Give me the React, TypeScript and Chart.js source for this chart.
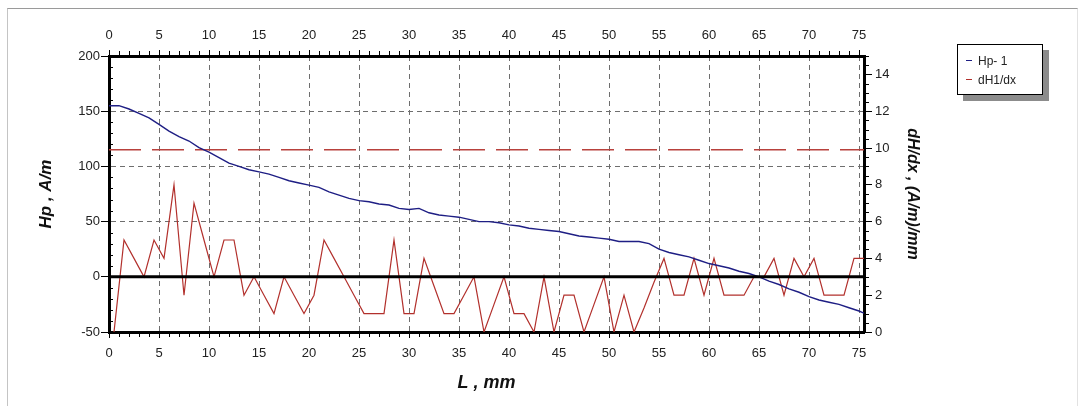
import { useEffect, useRef } from 'react';
import { Chart, registerables } from 'chart.js';

Chart.register(...registerables);

// ---- data ----
const xMin = 0;
const xMax = 75.5;
const xTickValues = [0, 5, 10, 15, 20, 25, 30, 35, 40, 45, 50, 55, 60, 65, 70, 75];
const hpTickValues = [-50, 0, 50, 100, 150, 200];
const dhTickValues = [0, 2, 4, 6, 8, 10, 12, 14];

const hpPositions = [
  0, 1, 2, 3, 4, 5, 6, 7, 8, 9, 10, 11, 12, 13, 14, 15, 16, 17, 18, 19,
  20, 21, 22, 23, 24, 25, 26, 27, 28, 29, 30, 31, 32, 33, 34, 35, 36, 37, 38, 39,
  40, 41, 42, 43, 44, 45, 46, 47, 48, 49, 50, 51, 52, 53, 54, 55, 56, 57, 58, 59,
  60, 61, 62, 63, 64, 65, 66, 67, 68, 69, 70, 71, 72, 73, 74, 75, 75.5,
];
const hpValues = [
  155, 155, 152, 148, 144, 138, 132, 127, 123, 117, 113, 108, 103, 100, 97, 95, 93, 90, 87, 85,
  83, 81, 77, 74, 71, 69, 68, 66, 65, 62, 61, 62, 58, 56, 55, 54, 52, 50, 50, 49,
  47, 46, 44, 43, 42, 41, 39, 37, 36, 35, 34, 32, 32, 32, 30, 25, 22, 20, 18, 15,
  12, 10, 8, 5, 3, 0, -4, -7, -11, -14, -18, -21, -23, -25, -28, -31, -33,
];

const dhPositions = [
  0.5, 1.5, 2.5, 3.5, 4.5, 5.5, 6.5, 7.5, 8.5, 9.5, 10.5, 11.5, 12.5, 13.5, 14.5, 15.5, 16.5, 17.5, 18.5, 19.5,
  20.5, 21.5, 22.5, 23.5, 24.5, 25.5, 26.5, 27.5, 28.5, 29.5, 30.5, 31.5, 32.5, 33.5, 34.5, 35.5, 36.5, 37.5, 38.5, 39.5,
  40.5, 41.5, 42.5, 43.5, 44.5, 45.5, 46.5, 47.5, 48.5, 49.5, 50.5, 51.5, 52.5, 53.5, 54.5, 55.5, 56.5, 57.5, 58.5, 59.5,
  60.5, 61.5, 62.5, 63.5, 64.5, 65.5, 66.5, 67.5, 68.5, 69.5, 70.5, 71.5, 72.5, 73.5, 74.5, 75.5,
];
const dhValues = [
  0, 5, 4, 3, 5, 4, 8, 2, 7, 5, 3, 5, 5, 2, 3, 2, 1, 3, 2, 1,
  2, 5, 4, 3, 2, 1, 1, 1, 5, 1, 1, 4, 2.5, 1, 1, 2, 3, 0, 1.5, 3,
  1, 1, 0, 3, 0, 2, 2, 0, 1.5, 3, 0, 2, 0, 1.3, 2.7, 4, 2, 2, 4, 2,
  4, 2, 2, 2, 3, 3, 4, 2, 4, 3, 4, 2, 2, 2, 4, 4,
];

const dhThreshold = 9.9;
const zeroLevel = 0;

const hpLabel = 'Hp- 1';
const dhLabel = 'dH1/dx';

const BLUE = '#1e1e84';
const RED = '#b2302c';
const RED_DASH = '#b8413c';
const FONT = '"Liberation Sans", Arial, sans-serif';

export default function App() {
  const ref = useRef<HTMLCanvasElement>(null);

  useEffect(() => {
    const canvas = ref.current;
    if (!canvas) return;

    const minorTicks = {
      id: 'minorTicks',
      afterDraw(chart: any) {
        const { ctx, chartArea } = chart;
        const x = chart.scales.x;
        const y = chart.scales.y;
        const y2 = chart.scales.y2;
        ctx.save();
        ctx.strokeStyle = '#000';
        ctx.lineWidth = 1;
        const seg = (a: number, b: number, c: number, d: number) => {
          ctx.beginPath();
          ctx.moveTo(a, b);
          ctx.lineTo(c, d);
          ctx.stroke();
        };
        for (let v = Math.ceil(x.min); v <= x.max; v += 1) {
          if (v % 5 === 0) continue;
          const px = Math.round(x.getPixelForValue(v)) + 0.5;
          seg(px, chartArea.bottom, px, chartArea.bottom + 5);
          seg(px, chartArea.top, px, chartArea.top - 5);
        }
        for (let v = y.min; v <= y.max; v += 10) {
          if (v % 50 === 0) continue;
          const py = Math.round(y.getPixelForValue(v)) + 0.5;
          seg(chartArea.left, py, chartArea.left + 4, py);
        }
        for (let v = y2.min; v <= y2.max; v += 0.5) {
          if (v % 2 === 0) continue;
          const py = Math.round(y2.getPixelForValue(v)) + 0.5;
          seg(chartArea.right, py, chartArea.right + 5, py);
        }
        ctx.restore();
      },
    };

    const tickFont = { family: FONT, size: 13 };

    const chart = new Chart(canvas, {
      type: 'line',
      data: {
        datasets: [
          {
            label: 'zero',
            data: [
              { x: xMin, y: zeroLevel },
              { x: xMax, y: zeroLevel },
            ],
            borderColor: '#000',
            borderWidth: 3,
            pointRadius: 0,
            xAxisID: 'x',
            yAxisID: 'y',
            order: 1,
          },
          {
            label: hpLabel,
            data: hpPositions.map((p, i) => ({ x: p, y: hpValues[i] })),
            borderColor: BLUE,
            borderWidth: 1.4,
            pointRadius: 0,
            tension: 0,
            xAxisID: 'x',
            yAxisID: 'y',
            order: 2,
          },
          {
            label: dhLabel,
            data: dhPositions.map((p, i) => ({ x: p, y: dhValues[i] })),
            borderColor: RED,
            borderWidth: 1.2,
            pointRadius: 0,
            tension: 0,
            xAxisID: 'x',
            yAxisID: 'y2',
            order: 3,
          },
          {
            label: 'threshold',
            data: [
              { x: xMin, y: dhThreshold },
              { x: xMax, y: dhThreshold },
            ],
            borderColor: RED_DASH,
            borderWidth: 1.5,
            borderDash: [32, 11],
            pointRadius: 0,
            xAxisID: 'x',
            yAxisID: 'y2',
            order: 4,
          },
        ],
      },
      options: {
        responsive: false,
        animation: false,
        events: [],
        layout: { padding: { left: 30, right: 150, top: 20, bottom: 10 } },
        plugins: {
          legend: { display: false },
          tooltip: { enabled: false },
        },
        scales: {
          x: {
            type: 'linear',
            position: 'bottom',
            min: xMin,
            max: xMax,
            afterBuildTicks: (s: any) => {
              s.ticks = xTickValues.map((v) => ({ value: v }));
            },
            afterFit: (s: any) => {
              s.height = 64;
            },
            ticks: { font: tickFont, color: '#222', padding: 8, maxRotation: 0, autoSkip: false },
            grid: {
              color: (c: any) => (c.tick && c.tick.value > xMin ? '#6e6e6e' : 'transparent'),
              lineWidth: 1,
              tickColor: '#000',
              tickLength: 6,
            },
            border: { color: '#000', width: 3, dash: [5, 4] },
            title: {
              display: true,
              text: 'L , mm',
              color: '#111',
              font: { family: FONT, size: 18, style: 'italic', weight: 'bold' },
              padding: { top: 0, bottom: 2 },
            },
          },
          x2: {
            type: 'linear',
            position: 'top',
            min: xMin,
            max: xMax,
            afterBuildTicks: (s: any) => {
              s.ticks = xTickValues.map((v) => ({ value: v }));
            },
            afterFit: (s: any) => {
              s.height = 36;
            },
            ticks: { font: tickFont, color: '#222', padding: 7, maxRotation: 0, autoSkip: false },
            grid: { drawOnChartArea: false, tickColor: '#000', tickLength: 6 },
            border: { color: '#000', width: 3 },
          },
          y: {
            type: 'linear',
            position: 'left',
            min: -50,
            max: 200,
            afterBuildTicks: (s: any) => {
              s.ticks = hpTickValues.map((v) => ({ value: v }));
            },
            afterFit: (s: any) => {
              s.width = 79;
            },
            ticks: { font: tickFont, color: '#222', padding: 1 },
            grid: {
              color: (c: any) =>
                c.tick && c.tick.value > -50 && c.tick.value < 200 && c.tick.value !== 0
                  ? '#6e6e6e'
                  : 'transparent',
              lineWidth: 1,
              tickColor: '#000',
              tickLength: 8,
            },
            border: { color: '#000', width: 3, dash: [5, 4] },
            title: {
              display: true,
              text: 'Hp , A/m',
              color: '#111',
              font: { family: FONT, size: 17, style: 'italic', weight: 'bold' },
              padding: { top: 6, bottom: 0 },
            },
          },
          y2: {
            type: 'linear',
            position: 'right',
            min: 0,
            max: 15,
            afterBuildTicks: (s: any) => {
              s.ticks = dhTickValues.map((v) => ({ value: v }));
            },
            afterFit: (s: any) => {
              s.width = 69;
            },
            ticks: { font: tickFont, color: '#222', padding: 3 },
            grid: { drawOnChartArea: false, tickColor: '#000', tickLength: 8 },
            border: { color: '#000', width: 3 },
            title: {
              display: true,
              text: 'dH/dx , (A/m)/mm',
              color: '#111',
              font: { family: FONT, size: 16, style: 'italic', weight: 'bold' },
              padding: { top: 11, bottom: 0 },
            },
          },
        },
      },
      plugins: [minorTicks],
    } as any);

    return () => chart.destroy();
  }, []);

  const legendRow = (color: string, text: string) => (
    <div style={{ display: 'flex', alignItems: 'center', height: 19 }}>
      <span
        style={{
          display: 'inline-block',
          width: 6,
          height: 0,
          borderTop: `1.5px solid ${color}`,
          marginLeft: 8,
          marginRight: 6,
        }}
      />
      <span>{text}</span>
    </div>
  );

  return (
    <div style={{ position: 'fixed', left: 0, top: 0, width: 1083, height: 406, background: '#fff' }}>
      <div
        style={{
          position: 'absolute',
          left: 7,
          top: 8,
          width: 1069,
          height: 420,
          borderLeft: '1px solid #c4c4c4',
          borderTop: '1px solid #9a9a9a',
          borderRight: '1px solid #e2e2e2',
        }}
      />
      <canvas
        ref={ref}
        width={1083}
        height={406}
        style={{ position: 'absolute', left: 0, top: 0, width: 1083, height: 406 }}
      />
      <div
        style={{
          position: 'absolute',
          left: 957,
          top: 44,
          width: 86,
          height: 51,
          boxSizing: 'border-box',
          border: '1px solid #000',
          background: '#fff',
          boxShadow: '6px 6px 0 #8c8c8c',
          fontFamily: FONT,
          fontSize: 12,
          color: '#222',
          paddingTop: 6,
        }}
      >
        {legendRow(BLUE, hpLabel)}
        {legendRow(RED, dhLabel)}
      </div>
    </div>
  );
}
